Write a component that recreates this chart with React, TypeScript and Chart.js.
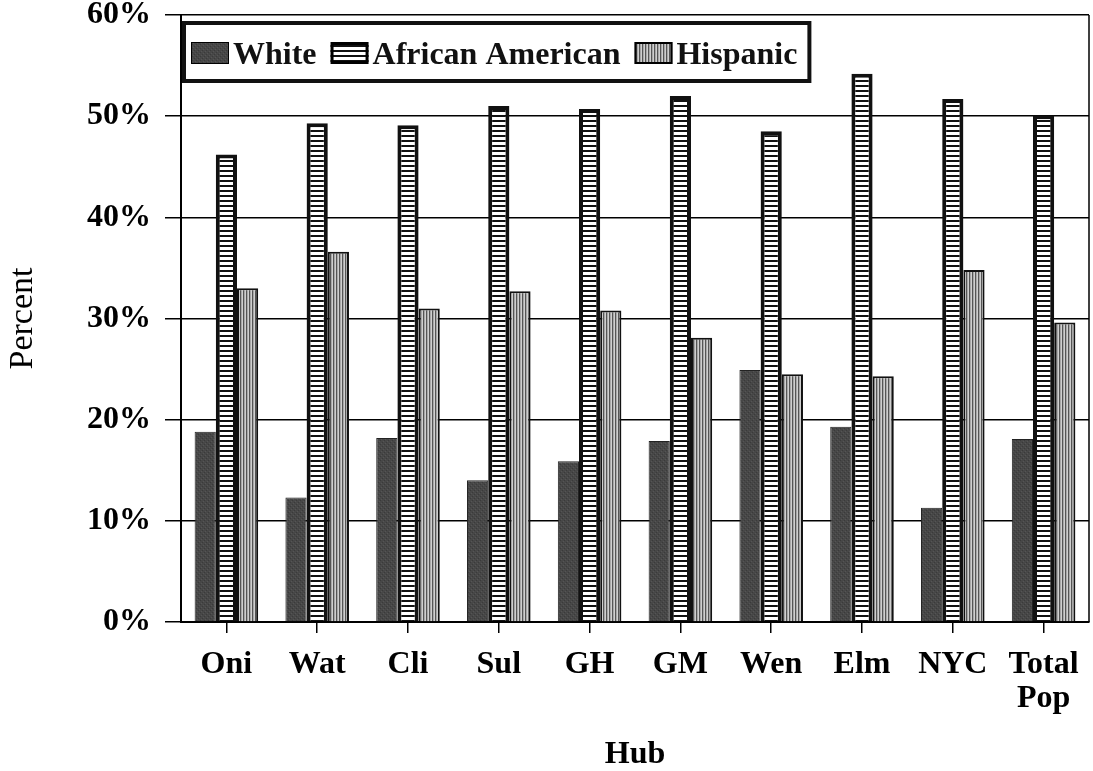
import React, { useEffect, useRef } from "react";
import { Chart, registerables } from "chart.js";

Chart.register(...registerables);

const categories: (string | string[])[] = ["Oni", "Wat", "Cli", "Sul", "GH", "GM", "Wen", "Elm", "NYC", ["Total", "Pop"]];
const seriesNames = ["White", "African American", "Hispanic"];
const whiteValues = [18.8, 12.3, 18.2, 14.0, 15.9, 17.9, 24.9, 19.3, 11.3, 18.1];
const africanAmericanValues = [46.2, 49.3, 49.1, 51.0, 50.7, 52.0, 48.5, 54.2, 51.7, 50.1];
const hispanicValues = [33.0, 36.6, 31.0, 32.7, 30.8, 28.1, 24.5, 24.3, 34.8, 29.6];
const yMin = 0;
const yMax = 60;
const yStep = 10;
const yTitle = "Percent";
const xTitle = "Hub";

const FONT = "'Liberation Serif', 'Times New Roman', Times, serif";

function makePattern(ctx: CanvasRenderingContext2D, w: number, h: number, draw: (c: CanvasRenderingContext2D) => void) {
  const tile = document.createElement("canvas");
  tile.width = w;
  tile.height = h;
  const tctx = tile.getContext("2d")!;
  draw(tctx);
  return ctx.createPattern(tile, "repeat")!;
}

const frameAndLegendPlugin = {
  id: "frameAndLegend",
  afterDraw(chart: any) {
    const ctx: CanvasRenderingContext2D = chart.ctx;
    const ca = chart.chartArea;
    ctx.save();
    // right frame line
    ctx.strokeStyle = "#000";
    ctx.lineWidth = 1.5;
    ctx.beginPath();
    ctx.moveTo(ca.right, ca.top);
    ctx.lineTo(ca.right, ca.bottom);
    ctx.stroke();

    // legend box
    ctx.font = `bold 32px ${FONT}`;
    const swW = 38, swH = 22, textGap = 4, itemGap = 14, padL = 7, padR = 12;
    const boxX = ca.left + 3, boxY = ca.top + 8, boxH = 58;
    const ds = chart.data.datasets;
    let total = padL;
    ds.forEach((d: any, i: number) => {
      total += swW + textGap + ctx.measureText(d.label).width;
      if (i < ds.length - 1) total += itemGap;
    });
    total += padR;
    ctx.fillStyle = "#fff";
    ctx.fillRect(boxX, boxY, total, boxH);
    ctx.lineWidth = 4;
    ctx.strokeStyle = "#111";
    ctx.strokeRect(boxX, boxY, total, boxH);
    let x = boxX + padL;
    const base = boxY + 41;
    ds.forEach((d: any) => {
      const sy = base - swH;
      ctx.fillStyle = d.backgroundColor;
      ctx.fillRect(x, sy, swW, swH);
      if (d.borderWidth > 0) {
        const bw = Math.min(d.borderWidth, 3);
        ctx.lineWidth = bw;
        ctx.strokeStyle = "#000";
        ctx.strokeRect(x + bw / 2, sy + bw / 2, swW - bw, swH - bw);
      }
      x += swW + textGap;
      ctx.fillStyle = "#111";
      ctx.textBaseline = "alphabetic";
      ctx.textAlign = "left";
      ctx.fillText(d.label, x, base);
      x += ctx.measureText(d.label).width + itemGap;
    });
    ctx.restore();
  },
};

export default function App() {
  const canvasRef = useRef<HTMLCanvasElement | null>(null);

  useEffect(() => {
    const canvas = canvasRef.current!;
    const ctx = canvas.getContext("2d")!;

    const whiteFill = makePattern(ctx, 4, 4, (c) => {
      c.fillStyle = "#474747";
      c.fillRect(0, 0, 4, 4);
      c.fillStyle = "#3a3a3a";
      c.fillRect(0, 0, 1, 1);
      c.fillRect(2, 2, 1, 1);
      c.fillStyle = "#555";
      c.fillRect(1, 3, 1, 1);
      c.fillRect(3, 1, 1, 1);
    });
    const aaFill = makePattern(ctx, 4, 5, (c) => {
      c.fillStyle = "#fff";
      c.fillRect(0, 0, 4, 5);
      c.fillStyle = "#111";
      c.fillRect(0, 0, 4, 2);
    });
    const hispFill = makePattern(ctx, 3, 4, (c) => {
      c.fillStyle = "#a8a8a8";
      c.fillRect(0, 0, 3, 4);
      c.fillStyle = "#555";
      c.fillRect(0, 0, 1, 4);
      c.fillStyle = "#cfcfcf";
      c.fillRect(2, 0, 1, 4);
    });

    const chart = new Chart(canvas, {
      type: "bar",
      data: {
        labels: categories as any,
        datasets: [
          { label: seriesNames[0], data: whiteValues, backgroundColor: whiteFill as any, borderColor: "#222", borderWidth: 1 },
          { label: seriesNames[1], data: africanAmericanValues, backgroundColor: aaFill as any, borderColor: "#111", borderWidth: 4 },
          { label: seriesNames[2], data: hispanicValues, backgroundColor: hispFill as any, borderColor: "#111", borderWidth: 2 },
        ],
      },
      options: {
        responsive: false,
        animation: false,
        datasets: { bar: { categoryPercentage: 0.7, barPercentage: 1.0 } },
        layout: { padding: { left: 0, top: 15, right: 4, bottom: 0 } },
        plugins: { legend: { display: false }, tooltip: { enabled: false }, title: { display: false } },
        scales: {
          x: {
            offset: true,
            grid: { display: true, drawOnChartArea: false, drawTicks: true, tickLength: 11, offset: false, color: "#000", lineWidth: 1.5 },
            border: { display: true, color: "#000", width: 2 },
            ticks: { color: "#000", font: { family: FONT, size: 32, weight: "bold", lineHeight: 1.08 }, padding: 14, maxRotation: 0, autoSkip: false },
            title: { display: true, text: xTitle, color: "#000", font: { family: FONT, size: 32, weight: "bold", lineHeight: 1.0 }, padding: { top: 0, bottom: 0 } },
            afterFit: (s: any) => { s.height = 149; s.paddingLeft = 0; s.paddingRight = 0; },
          } as any,
          y: {
            min: yMin,
            max: yMax,
            ticks: { stepSize: yStep, color: "#000", padding: 14, font: { family: FONT, size: 32, weight: "bold" }, callback: (v: any) => `${v}%` },
            grid: { color: "#000", lineWidth: 1.5, drawTicks: true, tickLength: 16 },
            border: { display: true, color: "#000", width: 2 },
            title: { display: true, text: yTitle, color: "#000", font: { family: FONT, size: 34, weight: "normal" }, padding: { top: 3, bottom: 0 } },
            afterFit: (s: any) => { s.width = 181; s.paddingTop = 0; s.paddingBottom = 0; },
          } as any,
        },
      },
      plugins: [frameAndLegendPlugin],
    });
    return () => chart.destroy();
  }, []);

  return (
    <div style={{ position: "absolute", left: 0, top: 0, width: 1093, height: 771, background: "#fff" }}>
      <canvas ref={canvasRef} width={1093} height={771} style={{ display: "block", width: 1093, height: 771 }} />
    </div>
  );
}
